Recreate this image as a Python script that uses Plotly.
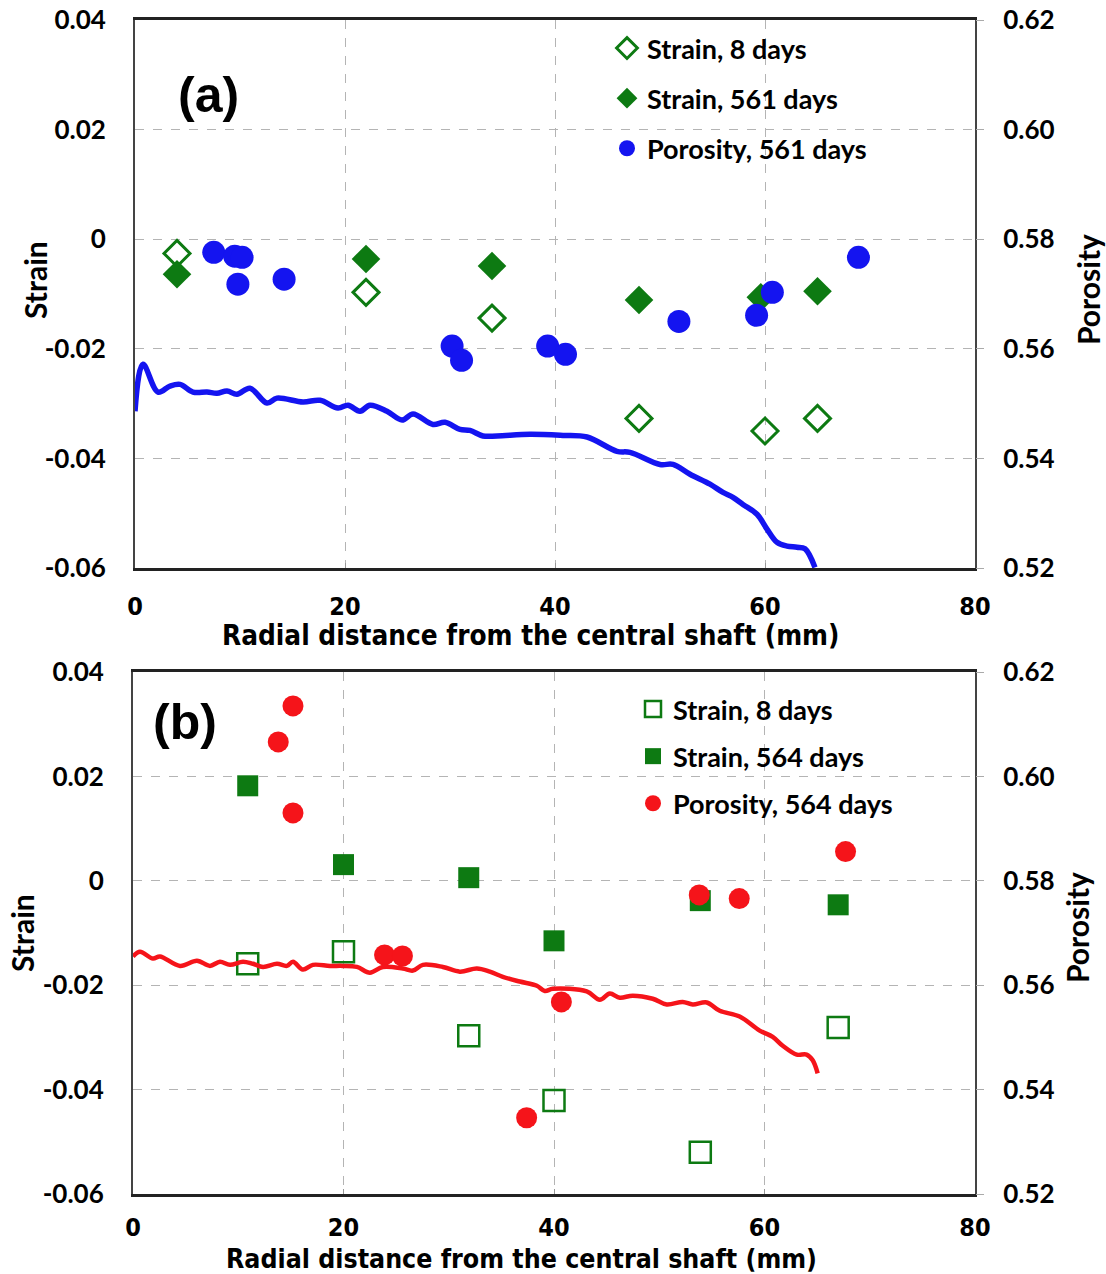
import plotly.graph_objects as go

W, H = 1106, 1274

# ---------------- Panel (a) data ----------------
a_s8_x = [4, 22, 34, 48, 60, 65]
a_s8_y = [-0.0026, -0.0097, -0.0144, -0.0327, -0.035, -0.0327]
a_s561_x = [4, 22, 34, 48, 59.6, 65]
a_s561_y = [-0.0064, -0.0036, -0.0049, -0.0111, -0.0106, -0.0095]
a_por_x = [7.5, 9.5, 10.2, 9.8, 14.2, 30.2, 31.1, 39.3, 41.0, 51.8, 59.2, 60.7, 68.9]
a_por_y = [0.5776, 0.5769, 0.5767, 0.5718, 0.5727, 0.5605, 0.5579, 0.5605, 0.5590,
           0.5650, 0.5661, 0.5703, 0.5767]
a_line_x = [0, 0.76, 2.19, 3.33, 4.29, 5.52, 6.86, 7.81, 8.76, 9.71, 10.95, 12.57, 13.52,
            16.0, 17.62, 19.33, 20.29, 21.43, 22.38, 24.0, 25.43, 26.48, 28.38, 29.52,
            30.95, 31.9, 33.14, 34.48, 37.62, 40.76, 43.05, 45.9, 47.14, 50.0, 51.24,
            52.86, 54.76, 56.0, 56.95, 57.9, 59.24, 60.19, 61.14, 62.1, 63.05, 63.81, 64.76]
a_line_y = [0.5486, 0.5572, 0.5521, 0.5532, 0.5535, 0.5521, 0.5521, 0.5519, 0.5523, 0.5517,
            0.5528, 0.5501, 0.5510, 0.5503, 0.5506, 0.5492, 0.5497, 0.5486, 0.5497, 0.5486,
            0.5470, 0.5481, 0.5462, 0.5466, 0.5453, 0.5451, 0.5441, 0.5441, 0.5444, 0.5442,
            0.5439, 0.5413, 0.5411, 0.5389, 0.5389, 0.5371, 0.5353, 0.5338, 0.5329, 0.5316,
            0.5298, 0.5271, 0.5247, 0.5240, 0.5238, 0.5235, 0.5201]

# ---------------- Panel (b) data ----------------
b_s8_x = [10.9, 20, 31.9, 40, 53.9, 67]
b_s8_y = [-0.0159, -0.0136, -0.0297, -0.0421, -0.052, -0.0281]
b_s564_x = [10.9, 20, 31.9, 40, 53.9, 67]
b_s564_y = [0.0182, 0.0031, 0.0006, -0.0115, -0.0038, -0.0046]
b_por_x = [15.2, 13.8, 15.2, 23.9, 25.6, 37.4, 40.7, 53.8, 57.6, 67.7]
b_por_y = [0.6135, 0.6066, 0.5930, 0.5658, 0.5656, 0.5346, 0.5568, 0.5773, 0.5766, 0.5856]
b_line_x = [0, 0.66, 1.9, 2.56, 4.46, 6.08, 7.31, 8.26, 9.21, 10.45, 11.4, 12.35, 13.68,
            14.62, 15.2, 16.14, 17.09, 18.71, 19.94, 21.27, 22.51, 23.74, 25.64, 26.59,
            27.54, 29.44, 31.05, 32.67, 33.9, 35.14, 36.75, 38.37, 39.13, 39.89, 43.11,
            44.35, 45.3, 46.25, 47.48, 49.38, 50.71, 52.23, 53.18, 54.51, 55.75, 57.64,
            59.54, 60.78, 61.73, 63.06, 64.0, 64.58, 65.05]
b_line_y = [0.5655, 0.5664, 0.5651, 0.5655, 0.5637, 0.5647, 0.5637, 0.5645, 0.5639, 0.5645,
            0.5641, 0.5635, 0.5641, 0.5637, 0.5645, 0.5630, 0.5639, 0.5637, 0.5637, 0.5635,
            0.5624, 0.5635, 0.5632, 0.5628, 0.5639, 0.5635, 0.5626, 0.5632, 0.5626, 0.5616,
            0.5607, 0.5599, 0.5589, 0.5593, 0.5588, 0.5572, 0.5584, 0.5576, 0.5580, 0.5574,
            0.5563, 0.5568, 0.5563, 0.5567, 0.5551, 0.5540, 0.5513, 0.5501, 0.5484, 0.5467,
            0.5467, 0.5456, 0.5431]

strain_ticks = [-0.06, -0.04, -0.02, 0, 0.02, 0.04]
strain_text = ["-0.06", "-0.04", "-0.02", "0", "0.02", "0.04"]
por_ticks = [0.52, 0.54, 0.56, 0.58, 0.60, 0.62]
por_text = ["0.52", "0.54", "0.56", "0.58", "0.60", "0.62"]
x_ticks = [0, 20, 40, 60, 80]
x_text = ["0", "20", "40", "60", "80"]

GREEN = "#0d7a12"
BLUE = "#1414f0"
RED = "#f5141a"
BOLD = "Lato"
NARROW = "DejaVu Sans Condensed, Lato"

fig = go.Figure()

# Panel (a)
fig.add_trace(go.Scatter(x=a_s8_x, y=a_s8_y, mode="markers", name="Strain, 8 days",
                         xaxis="x", yaxis="y", legend="legend", legendgroup="a1",
                         marker=dict(symbol="diamond-open", size=20, color=GREEN,
                                     line=dict(width=3, color=GREEN))))
fig.add_trace(go.Scatter(x=a_s561_x, y=a_s561_y, mode="markers", name="Strain, 561 days",
                         xaxis="x", yaxis="y", legend="legend", legendgroup="a2",
                         marker=dict(symbol="diamond", size=22, color=GREEN)))
fig.add_trace(go.Scatter(x=a_por_x, y=a_por_y, mode="markers", name="Porosity, 561 days",
                         xaxis="x", yaxis="y2", legend="legend", legendgroup="a3",
                         marker=dict(symbol="circle", size=23, color=BLUE)))
fig.add_trace(go.Scatter(x=a_line_x, y=a_line_y, mode="lines", showlegend=False,
                         xaxis="x", yaxis="y2", line=dict(color=BLUE, width=5.5, shape="spline")))

# Panel (b)
fig.add_trace(go.Scatter(x=b_s8_x, y=b_s8_y, mode="markers", name="Strain, 8 days",
                         xaxis="x2", yaxis="y3", legend="legend2", legendgroup="b1",
                         marker=dict(symbol="square-open", size=21, color=GREEN,
                                     line=dict(width=2.5, color=GREEN))))
fig.add_trace(go.Scatter(x=b_s564_x, y=b_s564_y, mode="markers", name="Strain, 564 days",
                         xaxis="x2", yaxis="y3", legend="legend2", legendgroup="b2",
                         marker=dict(symbol="square", size=21, color=GREEN)))
fig.add_trace(go.Scatter(x=b_por_x, y=b_por_y, mode="markers", name="Porosity, 564 days",
                         xaxis="x2", yaxis="y4", legend="legend2", legendgroup="b3",
                         marker=dict(symbol="circle", size=21, color=RED)))
fig.add_trace(go.Scatter(x=b_line_x, y=b_line_y, mode="lines", showlegend=False,
                         xaxis="x2", yaxis="y4", line=dict(color=RED, width=4.5, shape="spline")))

tickfont = dict(family=BOLD, size=26, color="black", weight="bold")
xtickfont = dict(family=NARROW, size=25, color="black", weight="bold")
grid = dict(showgrid=True, gridcolor="#b4b4b4", gridwidth=1, griddash="dash")

def xaxis(domain, anchor, standoff):
    return dict(domain=domain, anchor=anchor, range=[0, 80], tickvals=x_ticks, ticktext=x_text,
                tickfont=xtickfont, showline=True, linecolor="#222", linewidth=2.5, mirror=True,
                ticks="inside", ticklen=5, tickcolor="#999", zeroline=False, automargin=False,
                ticklabelstandoff=standoff, **grid)

def yleft(domain, anchor):
    return dict(domain=domain, anchor=anchor, range=[-0.06, 0.04], tickvals=strain_ticks,
                ticktext=strain_text, tickfont=tickfont, showline=True, linecolor="#444",
                linewidth=2, mirror=True, zeroline=False, ticklabelstandoff=22,
                automargin=False, **grid)

def yright(overlay, anchor):
    return dict(overlaying=overlay, anchor=anchor, side="right", range=[0.52, 0.62],
                tickvals=por_ticks, ticktext=por_text, tickfont=tickfont, showgrid=False,
                zeroline=False, ticks="outside", ticklen=8, tickcolor="#aaa",
                ticklabelstandoff=14, automargin=False)

ya_dom = [1 - 568 / H, 1 - 20 / H]
yb_dom = [1 - 1194 / H, 1 - 672 / H]

legfont = dict(family=BOLD, size=27, color="black", weight="bold")

def ann(text, x, y, size, angle=0, family=BOLD):
    return dict(text=text, x=x / W, y=1 - y / H, xref="paper", yref="paper", showarrow=False,
                textangle=angle, xanchor="center", yanchor="middle",
                font=dict(family=family, size=size, color="black", weight="bold"))

fig.update_layout(
    width=W, height=H, margin=dict(l=0, r=0, t=0, b=0, autoexpand=False),
    paper_bgcolor="white", plot_bgcolor="white",
    xaxis=xaxis([135 / W, 975 / W], "y", 14),
    yaxis=yleft(ya_dom, "x"),
    yaxis2=yright("y", "x"),
    xaxis2=xaxis([133 / W, 975 / W], "y3", 9),
    yaxis3=yleft(yb_dom, "x2"),
    yaxis4=yright("y3", "x2"),
    legend=dict(x=607 / W, y=1 - 24 / H, xanchor="left", yanchor="top", font=legfont,
                bgcolor="rgba(255,255,255,0)", tracegroupgap=12, itemsizing="trace"),
    legend2=dict(x=633 / W, y=1 - 685 / H, xanchor="left", yanchor="top", font=legfont,
                 bgcolor="rgba(255,255,255,0)", tracegroupgap=9, itemsizing="trace"),
    annotations=[
        ann("(a)", 208, 95, 50, family="Liberation Sans"),
        ann("(b)", 185, 722, 50, family="Liberation Sans"),
        ann("Strain", 35, 280, 30, -90),
        ann("Strain", 22, 933, 30, -90),
        ann("Porosity", 1088, 290, 30, -90),
        ann("Porosity", 1077, 928, 30, -90),
        ann("Radial distance from the central shaft (mm)", 530, 636, 27.7, family=NARROW),
        ann("Radial distance from the central shaft (mm)", 521, 1258, 26.5, family=NARROW),
    ],
)

fig.write_html("out.html")
